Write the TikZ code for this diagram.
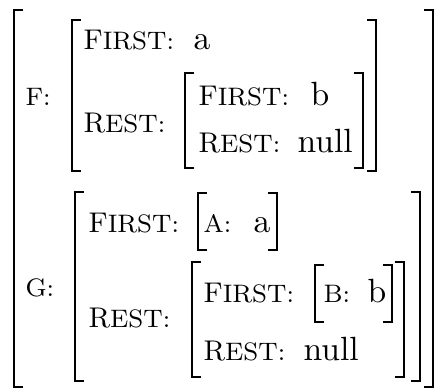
\documentclass[tikz,border=0pt]{standalone}
\newcommand{\featbig}{\fontsize{8.9}{10}\selectfont}
\newcommand{\featsml}{\fontsize{7.9}{9}\selectfont}
\newcommand{\featx}[2]{{\featbig #1}{\featsml #2}}
\begin{document}
\begin{tikzpicture}[x=0.3125pt,y=-0.3125pt,
  lbl/.style={anchor=base west,inner sep=0pt},
  val/.style={anchor=base west,inner sep=0pt,font=\fontsize{10.5}{12}\selectfont},
  brk/.style={line width=0.55pt,line cap=butt,line join=miter}]
\useasboundingbox (0,0) rectangle (437,388);
% brackets: left (x,top,bottom) and right
\def\lb#1#2#3{\draw[brk] (#1+9,#2) -- (#1,#2) -- (#1,#3) -- (#1+9,#3);}
\def\rb#1#2#3{\draw[brk] (#1-9,#2) -- (#1,#2) -- (#1,#3) -- (#1-9,#3);}
% outer
\lb{14}{10}{387} \rb{433}{10}{387}
% F block
\node[lbl] (fl) at (25,105) {\featsml F:};
\lb{72}{20}{171} \rb{376}{20}{171}
\node[lbl] (ff) at (83,49) {\featx{F}{IRST:}};
\node[val] (fa) at (193,49) {a};
\node[lbl] (fr) at (83,132) {\featx{R}{EST:}};
\lb{185}{73}{168} \rb{363}{73}{168}
\node[lbl] (frf) at (198,105) {\featx{F}{IRST:}};
\node[val] (frb) at (310,105) {b};
\node[lbl] (frr) at (198,152) {\featx{R}{EST:}};
\node[val] (frn) at (297,152) {null};
% G block
\node[lbl] (gl) at (25,296) {\featsml G:};
\lb{75}{192}{381} \rb{420}{192}{381}
\node[lbl] (gf) at (88,232) {\featx{F}{IRST:}};
\lb{198}{193}{250} \rb{277}{193}{250}
\node[lbl] (ga) at (203,232) {\featsml A:};
\node[val] (gav) at (253,232) {a};
\node[lbl] (gr) at (88,327) {\featx{R}{EST:}};
\lb{192}{262}{377} \rb{404}{262}{377}
\node[lbl] (grf) at (203,302) {\featx{F}{IRST:}};
\lb{315}{265}{322} \rb{392}{265}{322}
\node[lbl] (grb) at (323,302) {\featsml B:};
\node[val] (grbv) at (367,302) {b};
\node[lbl] (grr) at (203,360) {\featx{R}{EST:}};
\node[val] (grn) at (303,360) {null};
\end{tikzpicture}
\end{document}
